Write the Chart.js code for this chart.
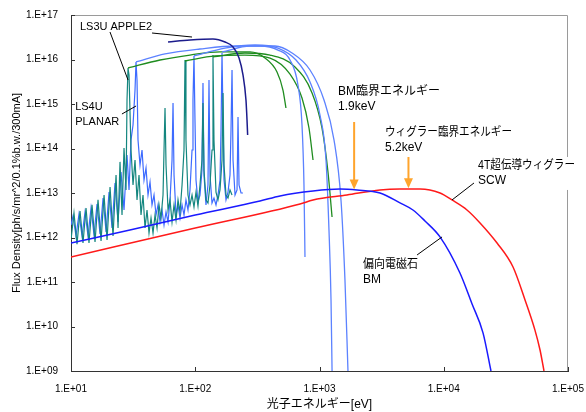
<!DOCTYPE html>
<html>
<head>
<meta charset="utf-8">
<script src="https://cdn.jsdelivr.net/npm/chart.js@4/dist/chart.umd.min.js"></script>
<style>
  html, body { margin: 0; padding: 0; background: #fff; }
  canvas { display: block; }
</style>
</head>
<body>
<canvas id="fluxChart" width="586" height="412"></canvas>
<script>
// ===== DATA (photon energy [eV], flux density) =====
const energyTicks = [1e1, 1e2, 1e3, 1e4, 1e5];
const fluxTicks = [1e9, 1e10, 1e11, 1e12, 1e13, 1e14, 1e15, 1e16, 1e17];

// bending magnet
const bmCurve = [[10,7.5e11],[29.8,1.47e12],[100,3.2e12],[332,6.6e12],[481,8.6e12],[887,1.11e13],
  [1462,1.23e13],[2004,1.17e13],[3069,1.0e13],[4444,6.0e12],[5650,4.15e12],[7060,2.35e12],
  [9330,1.03e12],[13500,1.59e11],[16900,3.2e10],[20700,7.2e9],[24000,1e9]];

// 4T superconducting wiggler
const scwCurve = [[10,3.65e11],[100,1.63e12],[697,5.66e12],[887,6.97e12],[1663,9.0e12],[3069,1.17e13],
  [4444,1.23e13],[6440,1.23e13],[9330,1.0e13],[11650,6.97e12],[15380,4.15e12],[19590,2.12e12],
  [26850,7.5e11],[36100,2.17e11],[45100,3.94e10],[54200,8.3e9],[59500,3.0e9],[64100,1e9]];

// undulator spectra (harmonics)
const tealSpectrum = [[10,8.8e11],[10.57,3.56e12],[11.18,7.1e11],[11.82,3.94e12],[12.49,7.5e11],[13.21,4.6e12],
  [13.96,7.5e11],[14.76,5.4e12],[15.61,7.9e11],[16.5,7.0e12],[17.45,8.4e11],[18.45,9.0e12],[19.5,8.8e11],
  [20.62,1.36e13],[21.79,1.08e12],[23.04,2.54e13],[23.91,1.63e12],[24.8,5.0e13],[25.74,3.2e12],[26.71,1.03e14],
  [27.72,1.17e13],[28.24,1.23e15],[28.77,6.44e15],[29.31,4.5e15],[30.41,9.25e13],[31.56,1.51e13],[32.75,5.5e13],
  [33.99,7.0e12],[35.27,2.54e13],[36.6,3.2e12],[37.98,9.0e12],[39.42,1.63e12],[40.91,4.15e12],[42.45,1.26e12],
  [44.06,2.74e12],[45.72,1.26e12],[47.45,3.2e12],[49.24,1.63e12],[51.1,5.4e12],[53.03,2.74e12],[55.03,9.0e12],
  [56.06,9.25e13],[57.11,8.1e14],[58.18,4.26e13],[60.38,4.15e12],[62.66,7.0e12],[65.03,2.23e12],[67.48,5.4e12],
  [70.03,2.47e12],[72.68,7.0e12],[75.4,3.74e12],[78.3,1.51e13],[81.2,9.25e13],[82.7,9.75e15],[84.2,1.55e14],
  [87.4,9.0e12],[90.7,5.4e12],[94.2,9.0e12],[97.7,4.84e12],[101.4,1.05e13],[105.2,5.1e12],[109.2,1.51e13],
  [113.3,5.5e13],[115.4,1.05e15],[117.6,3.29e13],[122,7.0e12],[126.6,5.96e12],[131.4,1.51e13],[136.4,9.25e13],
  [138.9,1.26e16],[141.5,1.55e14],[146.9,1.05e13],[152.4,7.0e12],[158.2,1.17e13],[164.2,5.5e13],[167.3,1.77e15],
  [170.4,4.26e13],[176.8,9.0e12],[183.5,7.7e12],[190.4,1.17e13],[197.7,9.0e12]];

const blueSpectrum = [[10,1.91e12],[10.38,3.04e12],[10.97,1.08e12],[11.6,3.37e12],[12.27,1.08e12],[12.97,3.74e12],
  [13.71,1.08e12],[14.49,4.6e12],[15.32,1.14e12],[16.2,5.66e12],[17.13,1.2e12],[18.11,7.7e12],[19.15,1.33e12],
  [20.24,1.05e13],[21.39,1.63e12],[22.61,1.68e13],[23.91,2.23e12],[25.27,2.96e13],[26.71,4.15e12],[28.24,7.14e13],
  [29.31,1.17e13],[30.41,1.55e14],[31.56,3.37e14],[32.75,2.06e15],[33.36,8.8e15],[33.99,3.46e15],[34.62,1.55e14],
  [35.93,4.26e13],[37.29,9.25e13],[38.69,1.96e13],[40.16,3.65e13],[41.67,9.0e12],[43.25,1.77e13],[44.88,5.4e12],
  [46.58,9.0e12],[48.34,3.2e12],[50.16,5.4e12],[52.06,2.23e12],[54.02,4.15e12],[56.06,1.91e12],[58.18,3.74e12],
  [60.38,2.23e12],[62.66,7.0e12],[65.03,5.5e13],[66.24,1.05e15],[67.48,2.54e13],[70.03,3.2e12],[72.68,5.4e12],
  [75.4,2.74e12],[78.3,5.4e12],[81.2,3.2e12],[84.2,7.0e12],[87.4,4.15e12],[90.7,1.17e13],[94.2,9.25e13],
  [95.9,1.23e15],[97.7,1.2e16],[99.5,4.37e14],[101.4,1.96e13],[105.2,6.28e12],[109.2,9.0e12],[113.3,3.29e13],
  [115.4,2.96e15],[117.6,2.54e13],[122,5.4e12],[126.6,1.51e13],[129,3.46e15],[131.4,2.54e13],[136.4,5.96e12],
  [141.5,7.7e12],[146.9,5.4e12],[152.4,9.0e12],[158.2,1.96e13],[161.2,2.61e14],[164.2,1.4e16],[167.3,4.37e14],
  [170.4,1.96e13],[176.8,7.0e12],[183.5,1.05e13],[190.4,2.54e13],[194,2.61e14],[197.7,5.81e15],[201.4,5.5e13],
  [209,9.0e12],[216.9,1.17e13],[220.9,5.1e14],[225.1,1.51e13],[233.6,1.0e13],[242.2,1.0e13]];

// tuning curves (harmonic envelopes)
const greenTune1 = [[28.77,6.44e15],[52.06,9.75e15],[90.7,1.26e16],[158.2,1.48e16],[276,1.48e16],[364,1.08e16],
  [455,5.24e15],[508,2.06e15],[537,8.13e14]];
const greenTune2 = [[82.7,9.26e15],[144.2,1.2e16],[251,1.26e16],[400,1.08e16],[579,4.72e15],[723,1.36e15],
  [823,2.89e14],[887,5.52e13]];
const greenTune3 = [[138.9,1.14e16],[251,1.4e16],[400,1.26e16],[635,6.78e15],[871,1.77e15],[1047,2.89e14],
  [1170,2.96e13],[1262,2.89e12]];
const blueTune1 = [[33.36,8.79e15],[57.1,1.33e16],[109,1.72e16],[209,2.01e16],[332,2.01e16],[463,1.63e16],
  [579,9.75e15],[671,2.67e15],[723,3.37e14],[750,1.51e13],[764,3.65e11]];
const blueTune2 = [[97.7,1.2e16],[173.6,1.81e16],[303,2.12e16],[463,1.81e16],[647,9.75e15],[839,3.12e15],
  [1009,5.66e14],[1128,5.52e13],[1192,1.47e12],[1238,3.94e10],[1262,1e9]];
const blueTune3 = [[164.2,1.48e16],[276,2.01e16],[438,2.01e16],[601,1.4e16],[839,5.81e15],[1087,1.23e15],
  [1309,1.55e14],[1489,6.97e12],[1603,1.11e11],[1695,1e9]];
const navyTune = [[60.4,2.47e16],[90.7,2.74e16],[138.9,2.89e16],[173.6,2.47e16],[201.4,1.91e16],[225.1,1.08e16],
  [242.2,4.49e15],[256,1.23e15],[261,4.37e14],[264,2.01e14]];

// ===== NOTES (anchored in data units) =====
const FONT = '"Liberation Sans", Arial, "Noto Sans CJK JP", sans-serif';

const noteTexts = [
  { x: 11.8,  y: 5.37e16, lines: ['LS3U APPLE2'], size: 11 },
  { x: 10.8,  y: 8.57e14, lines: ['LS4U', 'PLANAR'], size: 11 },
  { x: 1410,  y: 1.86e15, lines: ['BM臨界エネルギー', '1.9keV'], size: 12, maxW: 110 },
  { x: 3365,  y: 2.23e14, lines: ['ウィグラー臨界エネルギー', '5.2keV'], size: 12, maxW: 127 },
  { x: 18870, y: 4.05e13, lines: ['4T超伝導ウィグラー', 'SCW'], size: 12, maxW: 97, box: true },
  { x: 2240,  y: 2.41e11, lines: ['偏向電磁石', 'BM'], size: 12, maxW: 55 }
];
const leaderLines = [
  [44.9, 3.94e16, 94.2, 3.2e16],
  [20.6, 4.15e16, 28.77, 3.46e15],
  [25.7, 5.96e14, 33.4, 9.02e14],
  [17520, 1.68e13, 11650, 6.97e12],
  [6100, 4.05e11, 9690, 1.03e12]
];
const arrowMarks = [
  [1900, 3.94e14, 1.2e13],
  [5200, 6.44e13, 1.28e13]
];

// ===== HELPERS =====
const toXY = arr => arr.map(p => ({ x: p[0], y: p[1] }));
const expLabel = v => '1.E+' + String(Math.round(Math.log10(v))).padStart(2, '0');

function series(data, color, width, smooth){
  return {
    data: toXY(data),
    borderColor: color,
    borderWidth: width,
    pointRadius: 0,
    fill: false,
    tension: 0,
    cubicInterpolationMode: smooth ? 'monotone' : 'default'
  };
}

// ===== DECOR: frame, inner ticks, notes =====
const decor = {
  id: 'decor',
  afterDatasetsDraw(chart){
    const { ctx, chartArea: a, scales: { x, y } } = chart;
    ctx.save();

    // top/right frame
    ctx.strokeStyle = '#9a9a9a';
    ctx.lineWidth = 1;
    ctx.beginPath();
    ctx.moveTo(a.left, a.top + 0.5);
    ctx.lineTo(a.right - 0.5, a.top + 0.5);
    ctx.lineTo(a.right - 0.5, a.bottom);
    ctx.stroke();

    // ticks pointing inwards
    ctx.strokeStyle = '#333';
    ctx.beginPath();
    fluxTicks.forEach(v => {
      const py = Math.round(y.getPixelForValue(v)) + 0.5;
      ctx.moveTo(a.left, py); ctx.lineTo(a.left + 4, py);
    });
    energyTicks.forEach(v => {
      const px = Math.round(x.getPixelForValue(v)) + 0.5;
      ctx.moveTo(px, a.bottom); ctx.lineTo(px, a.bottom - 4);
    });
    ctx.stroke();

    // leader lines
    ctx.strokeStyle = '#000';
    ctx.lineWidth = 1;
    leaderLines.forEach(l => {
      ctx.beginPath();
      ctx.moveTo(x.getPixelForValue(l[0]), y.getPixelForValue(l[1]));
      ctx.lineTo(x.getPixelForValue(l[2]), y.getPixelForValue(l[3]));
      ctx.stroke();
    });

    // orange arrows
    arrowMarks.forEach(m => {
      const px = x.getPixelForValue(m[0]);
      const y1 = y.getPixelForValue(m[1]);
      const y2 = y.getPixelForValue(m[2]);
      ctx.strokeStyle = '#ffa42c';
      ctx.fillStyle = '#ffa42c';
      ctx.lineWidth = 2;
      ctx.beginPath();
      ctx.moveTo(px, y1); ctx.lineTo(px, y2 - 8);
      ctx.stroke();
      ctx.beginPath();
      ctx.moveTo(px - 4.5, y2 - 10);
      ctx.lineTo(px + 4.5, y2 - 10);
      ctx.lineTo(px, y2);
      ctx.closePath();
      ctx.fill();
    });

    // texts
    ctx.textAlign = 'left';
    ctx.textBaseline = 'middle';
    noteTexts.forEach(n => {
      ctx.font = n.size + 'px ' + FONT;
      const px = x.getPixelForValue(n.x);
      const py = y.getPixelForValue(n.y);
      const gap = 15;
      if (n.box){
        let w = 0;
        n.lines.forEach(t => { w = Math.max(w, Math.min(ctx.measureText(t).width, n.maxW || 1e9)); });
        ctx.fillStyle = '#fff';
        ctx.fillRect(px - 3, py - 9, w + 6, gap * (n.lines.length - 1) + 18);
      }
      ctx.fillStyle = '#000';
      n.lines.forEach((t, i) => {
        if (n.maxW) ctx.fillText(t, px, py + i * gap, n.maxW);
        else ctx.fillText(t, px, py + i * gap);
      });
    });

    ctx.restore();
  }
};

// ===== CHART =====
Chart.defaults.font.family = FONT;
Chart.defaults.color = '#000';

new Chart(document.getElementById('fluxChart'), {
  type: 'line',
  data: {
    datasets: [
      series(bmCurve, '#1a1aff', 1.5, true),
      series(scwCurve, '#ff1a1a', 1.5, true),
      series(navyTune, '#1c1c8c', 1.5, true),
      series(blueTune1, '#5c82ff', 1.3, true),
      series(blueTune2, '#5c82ff', 1.3, true),
      series(blueTune3, '#5c82ff', 1.3, true),
      series(greenTune1, '#1f8c1f', 1.3, true),
      series(greenTune2, '#1f8c1f', 1.3, true),
      series(greenTune3, '#1f8c1f', 1.3, true),
      series(tealSpectrum, '#14867f', 1.2, false),
      series(blueSpectrum, '#3d6bff', 1.2, false)
    ]
  },
  options: {
    responsive: false,
    devicePixelRatio: 1,
    animation: false,
    events: [],
    layout: { padding: { top: 15, right: 18, left: 0, bottom: 0 } },
    plugins: { legend: { display: false }, tooltip: { enabled: false } },
    scales: {
      x: {
        type: 'logarithmic',
        min: 10, max: 1e5,
        afterBuildTicks: s => { s.ticks = energyTicks.map(v => ({ value: v })); },
        afterFit: s => { s.height = 41; s.paddingLeft = 0; s.paddingRight = 16; },
        grid: { display: false, drawTicks: false },
        border: { display: true, color: '#333', width: 1 },
        ticks: { autoSkip: false, maxRotation: 0, padding: 12, font: { size: 10 }, callback: v => expLabel(v) },
        title: { display: true, text: '光子エネルギー[eV]', font: { size: 12 }, padding: { top: 0, bottom: 0 } }
      },
      y: {
        type: 'logarithmic',
        min: 1e9, max: 1e17,
        afterBuildTicks: s => { s.ticks = fluxTicks.map(v => ({ value: v })); },
        afterFit: s => { s.width = 71; s.paddingTop = 0; s.paddingBottom = 0; },
        grid: { display: false, drawTicks: false },
        border: { display: true, color: '#333', width: 1 },
        ticks: { autoSkip: false, padding: 13, font: { size: 10 }, callback: v => expLabel(v) },
        title: { display: true, text: 'Flux Density[ph/s/mr^2/0.1%b.w./300mA]', font: { size: 11 }, padding: { top: 10, bottom: 0 } }
      }
    }
  },
  plugins: [decor]
});
</script>
</body>
</html>
